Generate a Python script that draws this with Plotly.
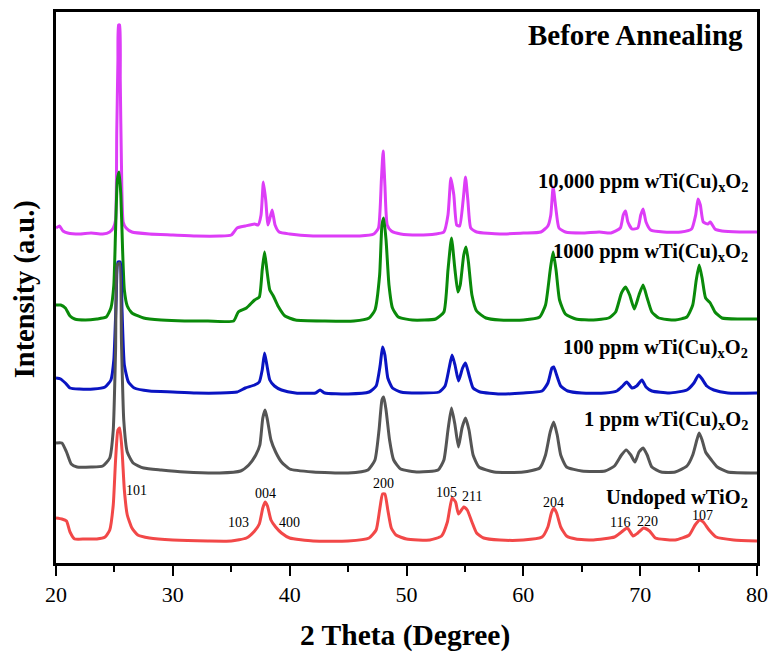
import plotly.graph_objects as go

# ---- XRD patterns (2θ in degrees, stacked intensity in a.u.) ----
theta_10000 = [20.0, 20.3, 20.6, 21.0, 22.0, 23.0, 24.0, 24.6, 24.9, 25.1, 25.2, 25.3, 25.35, 25.45, 25.5,
               25.6, 25.75, 26.0, 26.5, 28.0, 30.0, 32.0, 34.0, 35.0, 35.5, 36.2, 37.0, 37.3, 37.55, 37.75,
               37.95, 38.15, 38.5, 38.75, 39.1, 40.0, 42.0, 44.0, 46.0, 47.2, 47.6, 47.85, 48.0, 48.15, 48.35,
               48.7, 49.5, 51.0, 52.5, 53.2, 53.55, 53.8, 54.05, 54.3, 54.55, 54.85, 55.05, 55.25, 55.5, 56.0,
               58.0, 60.0, 61.5, 62.1, 62.35, 62.55, 62.8, 63.05, 63.6, 65.0, 66.5, 67.5, 68.3, 68.55, 68.75,
               68.95, 69.3, 69.8, 70.05, 70.25, 70.5, 70.9, 72.0, 73.5, 74.4, 74.75, 74.95, 75.15, 75.4, 75.8,
               76.0, 76.4, 77.0, 78.5, 80.0]
int_10000 = [335, 337, 332, 330, 329, 330, 329, 331, 335, 343, 430, 503, 538, 538, 483,
             400, 341, 335, 331, 329, 328, 327, 327, 328, 335, 337, 339, 338, 348, 381,
             363, 338, 353, 338, 331, 329, 327, 327, 327, 329, 335, 383, 412, 378, 338,
             332, 329, 328, 329, 331, 348, 385, 368, 338, 337, 363, 386, 363, 335, 331,
             329, 330, 331, 337, 348, 376, 353, 335, 331, 330, 331, 330, 335, 348, 352,
             341, 334, 335, 348, 354, 341, 333, 331, 331, 334, 348, 364, 358, 341, 339,
             341, 334, 332, 331, 331]

theta_1000 = [20.0, 20.4, 20.8, 21.2, 21.6, 22.5, 23.5, 24.3, 24.7, 24.95, 25.1, 25.25, 25.4, 25.55, 25.7,
              25.85, 26.1, 26.5, 27.5, 29.0, 31.0, 33.0, 35.2, 35.6, 36.3, 37.0, 37.4, 37.65, 37.85, 38.05,
              38.3, 38.6, 39.0, 39.6, 40.5, 43.0, 45.5, 46.8, 47.3, 47.7, 47.9, 48.05, 48.25, 48.5, 48.8,
              49.3, 50.5, 52.5, 53.2, 53.55, 53.85, 54.15, 54.4, 54.6, 54.9, 55.1, 55.3, 55.6, 56.0, 56.8,
              58.0, 60.0, 61.4, 61.9, 62.3, 62.55, 62.8, 63.1, 63.6, 64.5, 66.0, 67.3, 67.9, 68.4, 68.75,
              69.1, 69.5, 69.9, 70.25, 70.6, 71.0, 71.6, 73.0, 74.0, 74.5, 74.8, 75.05, 75.3, 75.6, 76.0,
              76.4, 77.0, 78.5, 80.0]
int_1000 = [258, 258, 255, 247, 244, 243, 244, 246, 255, 278, 333, 383, 391, 368, 313,
            273, 257, 250, 245, 243, 242, 242, 242, 251, 255, 263, 266, 293, 311, 293,
            273, 267, 257, 247, 243, 242, 242, 245, 253, 288, 338, 345, 323, 278, 255,
            246, 243, 244, 251, 293, 325, 293, 271, 278, 308, 316, 301, 268, 252, 245,
            243, 243, 246, 258, 293, 311, 293, 263, 249, 244, 243, 245, 251, 270, 276,
            268, 254, 268, 278, 265, 251, 245, 243, 246, 258, 283, 298, 285, 265, 260,
            251, 245, 244, 244]

theta_100 = [20.0, 20.4, 20.8, 21.2, 22.0, 23.2, 24.2, 24.7, 24.95, 25.15, 25.3, 25.5, 25.65, 25.85, 26.2,
             26.7, 28.0, 30.0, 32.0, 34.0, 35.5, 36.2, 37.0, 37.4, 37.65, 37.85, 38.05, 38.3, 38.7, 39.3,
             40.5, 42.2, 42.6, 43.0, 45.0, 46.8, 47.4, 47.75, 47.95, 48.15, 48.4, 48.8, 49.5, 51.0, 52.8,
             53.3, 53.65, 53.9, 54.15, 54.45, 54.8, 55.05, 55.35, 55.7, 56.3, 58.0, 60.0, 61.6, 62.1, 62.45,
             62.6, 62.85, 63.2, 63.8, 65.0, 67.0, 68.0, 68.5, 68.85, 69.3, 69.7, 70.15, 70.5, 71.0, 72.5,
             74.0, 74.6, 75.0, 75.3, 75.7, 76.3, 77.5, 80.0]
int_100 = [185, 184, 180, 175, 174, 174, 176, 183, 203, 263, 301, 301, 253, 198, 181,
           175, 172, 171, 170, 170, 171, 175, 178, 181, 193, 210, 198, 183, 177, 173,
           170, 170, 173, 170, 169, 171, 177, 198, 216, 208, 185, 175, 171, 170, 171,
           177, 195, 208, 198, 182, 195, 200, 188, 175, 171, 169, 170, 172, 180, 195,
           196, 188, 177, 172, 170, 170, 172, 177, 181, 175, 177, 183, 176, 172, 170,
           173, 180, 188, 184, 177, 173, 170, 170]

theta_1 = [20.0, 20.5, 20.9, 21.3, 21.8, 23.0, 24.0, 24.6, 24.9, 25.1, 25.25, 25.45, 25.6, 25.8, 26.1,
           26.6, 27.5, 29.0, 31.0, 34.0, 35.8, 36.5, 37.1, 37.45, 37.7, 37.9, 38.1, 38.4, 38.8, 39.3,
           40.0, 42.0, 45.0, 46.7, 47.3, 47.65, 47.9, 48.05, 48.25, 48.55, 48.9, 49.5, 51.0, 52.7, 53.2,
           53.55, 53.85, 54.15, 54.45, 54.75, 55.05, 55.35, 55.7, 56.2, 57.5, 60.0, 61.4, 61.9, 62.3, 62.6,
           62.9, 63.2, 63.7, 65.0, 67.0, 67.8, 68.4, 68.8, 69.2, 69.55, 69.9, 70.25, 70.6, 71.0, 71.8,
           73.0, 74.0, 74.5, 74.85, 75.05, 75.3, 75.6, 76.1, 76.6, 77.5, 80.0]
int_1 = [120, 120, 111, 99, 96, 96, 97, 105, 133, 213, 298, 300, 223, 143, 111,
         100, 95, 93, 91, 90, 92, 98, 108, 118, 145, 153, 143, 123, 111, 101,
         94, 91, 90, 93, 103, 133, 163, 166, 153, 123, 103, 94, 91, 93, 103,
         133, 155, 138, 116, 135, 145, 133, 108, 96, 91, 91, 95, 108, 131, 141,
         128, 108, 96, 92, 92, 97, 108, 113, 108, 101, 111, 115, 108, 96, 91,
         91, 97, 108, 123, 130, 123, 111, 103, 96, 91, 90]

theta_undoped = [20.0, 20.5, 20.9, 21.2, 21.6, 22.5, 23.5, 24.2, 24.6, 24.9, 25.1, 25.3, 25.45, 25.65, 25.85,
                 26.1, 26.5, 27.0, 28.0, 30.0, 33.0, 35.0, 36.3, 37.0, 37.4, 37.7, 37.9, 38.1, 38.4, 38.8,
                 39.3, 40.0, 42.0, 45.0, 46.8, 47.4, 47.7, 47.95, 48.15, 48.4, 48.7, 49.1, 50.0, 52.0, 53.0,
                 53.5, 53.9, 54.2, 54.45, 54.9, 55.2, 55.6, 56.0, 56.6, 58.0, 60.0, 61.6, 62.1, 62.4, 62.6,
                 62.85, 63.2, 63.7, 64.5, 66.0, 67.8, 68.4, 68.9, 69.4, 69.8, 70.3, 70.8, 71.3, 73.0, 74.2,
                 74.7, 75.1, 75.4, 75.9, 76.5, 78.0, 80.0]
int_undoped = [45, 44, 42, 31, 24, 24, 24, 26, 33, 58, 103, 133, 135, 113, 73,
               48, 35, 28, 25, 23, 22, 22, 25, 32, 39, 55, 61, 57, 43, 36,
               30, 25, 22, 22, 25, 33, 53, 69, 69, 53, 35, 28, 24, 23, 27,
               41, 65, 61, 49, 56, 53, 41, 30, 25, 23, 23, 26, 36, 50, 55,
               50, 36, 27, 24, 23, 26, 31, 35, 27, 30, 35, 32, 25, 23, 28,
               38, 43, 41, 33, 26, 23, 22]

series_names = ["10,000 ppm wTi(Cu)<sub>x</sub>O<sub>2</sub>",
                "1000 ppm wTi(Cu)<sub>x</sub>O<sub>2</sub>",
                "100 ppm wTi(Cu)<sub>x</sub>O<sub>2</sub>",
                "1 ppm wTi(Cu)<sub>x</sub>O<sub>2</sub>",
                "Undoped wTiO<sub>2</sub>"]
series_theta = [theta_10000, theta_1000, theta_100, theta_1, theta_undoped]
series_int = [int_10000, int_1000, int_100, int_1, int_undoped]
series_colors = ["#DD3DF7", "#0A8A0A", "#0A14C2", "#555555", "#F24848"]
# label anchor (y in a.u.) for each pattern name, placed at the right edge
name_y = [381, 311, 215, 143, 65]

# anatase reflections marked on the undoped pattern
hkl_labels = ["101", "004", "103", "400", "200", "105", "211", "204", "116", "220", "107"]
hkl_theta = [26.9, 37.9, 35.6, 40.0, 48.0, 53.4, 55.6, 62.6, 68.3, 70.6, 75.3]
hkl_y = [73, 70, 41, 41, 80, 71, 67, 61, 41, 42, 48]

SERIF = "Liberation Serif, Times New Roman, serif"

fig = go.Figure()
for th, inten, col in zip(series_theta, series_int, series_colors):
    fig.add_trace(go.Scatter(x=th, y=inten, mode="lines",
                             line=dict(color=col, width=3, shape="spline", smoothing=0.5),
                             showlegend=False, hoverinfo="skip"))

annotations = []
for name, y in zip(series_names, name_y):
    annotations.append(dict(x=79.4, y=y, xref="x", yref="y", text="<b>" + name + "</b>",
                            showarrow=False, xanchor="right", yanchor="middle",
                            font=dict(family=SERIF, size=20.5, color="black")))
for lab, th, y in zip(hkl_labels, hkl_theta, hkl_y):
    annotations.append(dict(x=th, y=y, xref="x", yref="y", text=lab, showarrow=False,
                            xanchor="center", yanchor="middle",
                            font=dict(family=SERIF, size=14, color="black")))
annotations.append(dict(x=79.0, y=528, xref="x", yref="y", text="<b>Before Annealing</b>",
                        showarrow=False, xanchor="right", yanchor="middle",
                        font=dict(family=SERIF, size=29, color="black")))
annotations.append(dict(x=0.498, y=-0.131, xref="paper", yref="paper",
                        text="<b>2 Theta (Degree)</b>", showarrow=False,
                        xanchor="center", yanchor="middle",
                        font=dict(family=SERIF, size=29.5, color="black")))
annotations.append(dict(x=-0.044, y=0.497, xref="paper", yref="paper",
                        text="<b>Intensity (a.u.)</b>", showarrow=False, textangle=-90,
                        xanchor="center", yanchor="middle",
                        font=dict(family=SERIF, size=28.5, color="black")))

fig.update_layout(
    width=769, height=653, autosize=False,
    margin=dict(l=56, r=12, t=12, b=90, autoexpand=False),
    paper_bgcolor="white", plot_bgcolor="white",
    annotations=annotations,
    xaxis=dict(range=[20, 80], dtick=10, tick0=20, ticks="outside", ticklen=10, tickwidth=2,
               tickcolor="black", showline=True, linewidth=2.5, linecolor="black", mirror=True,
               showgrid=False, zeroline=False, automargin=False,
               tickfont=dict(family=SERIF, size=22, color="black"),
               minor=dict(dtick=5, ticks="outside", ticklen=6, tickwidth=2, tickcolor="black",
                          showgrid=False)),
    yaxis=dict(range=[0, 551], showticklabels=False, ticks="", showline=True, linewidth=2.5,
               linecolor="black", mirror=True, showgrid=False, zeroline=False, automargin=False),
)

fig.write_html("out.html", config={"responsive": False})
